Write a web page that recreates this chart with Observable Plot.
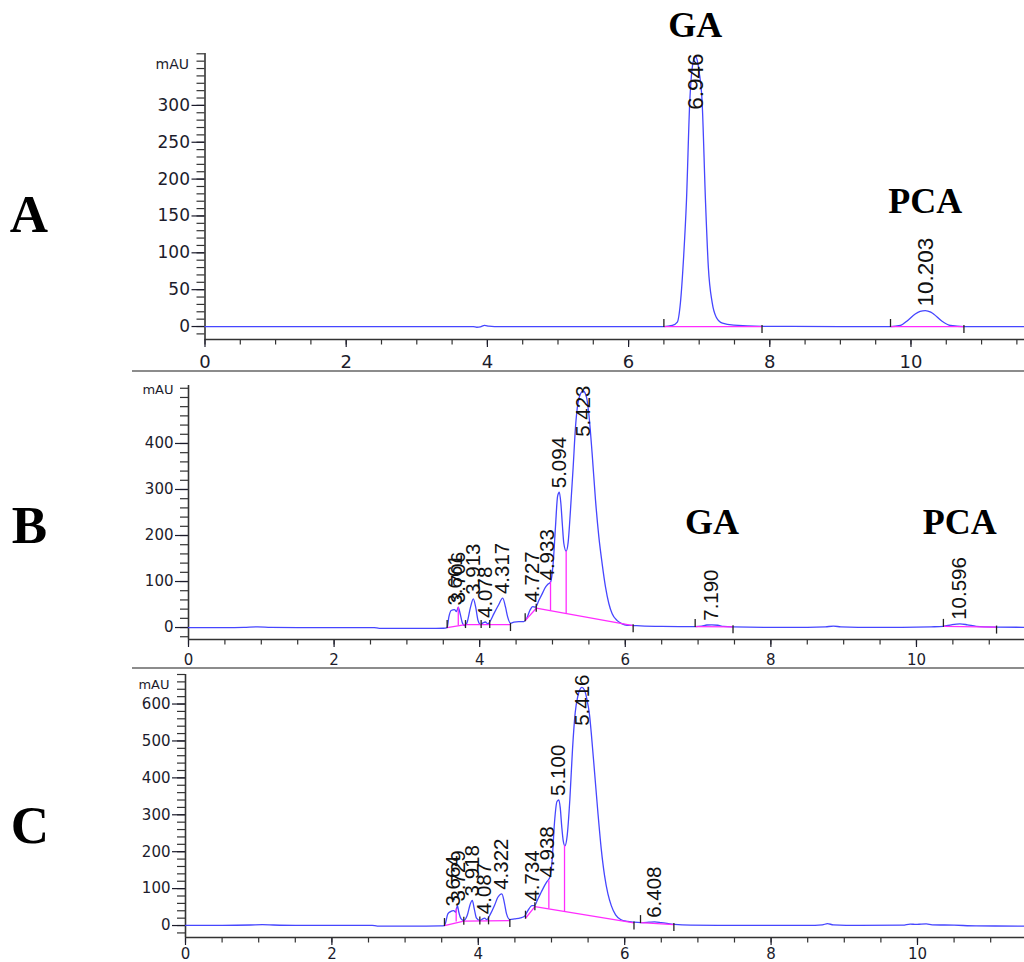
<!DOCTYPE html>
<html><head><meta charset="utf-8">
<script src="https://cdn.jsdelivr.net/npm/d3@7"></script>
<script src="https://cdn.jsdelivr.net/npm/@observablehq/plot@0.6"></script>
<style>
html,body{margin:0;padding:0;background:#fff;}
#root{position:relative;width:1024px;height:962px;overflow:hidden;background:#fff;}
#root > svg{position:absolute;left:0;}
</style></head><body><div id="root"></div>
<script>
// ---------------- DATA ----------------
const panelLetters = ["A", "B", "C"];
const compoundNames = ["GA", "PCA"];

// Panel A : standard mixture
const timeA = [0, 1, 2, 3, 3.80, 3.85, 3.90, 3.96, 4.02, 4.10, 5, 6, 6.50, 6.62, 6.69, 6.735, 6.78, 6.82, 6.867, 6.90, 6.925, 6.946, 6.97, 7.00, 7.041, 7.089, 7.13, 7.183, 7.24, 7.33, 7.49, 7.89, 9.0, 9.71, 9.85, 9.94, 10.06, 10.13, 10.203, 10.28, 10.32, 10.44, 10.56, 10.75, 11.61];
const mAU_A = [0, 0, 0, 0, 0, -1, -0.5, 1.5, 0.5, 0, 0, 0, 0, 1.5, 6, 33, 95, 171, 306, 350, 363, 366, 362, 345, 306, 171, 80, 33, 13, 4.5, 1.8, 0.3, 0, 0, 1.4, 7.2, 17, 20.5, 21.7, 19.5, 17, 7.2, 1.4, 0, 0];

// Panel B
const timeB = [0, 0.5, 0.76, 0.95, 1.13, 1.5, 2.0, 2.55, 2.62, 3.0, 3.3, 3.50, 3.553, 3.576, 3.608, 3.654, 3.681, 3.706, 3.727, 3.759, 3.791, 3.828, 3.874, 3.913, 3.945, 3.978, 4.011, 4.045, 4.078, 4.11, 4.148, 4.194, 4.255, 4.317, 4.355, 4.385, 4.423, 4.469, 4.538, 4.606, 4.643, 4.689, 4.727, 4.766, 4.812, 4.858, 4.904, 4.933, 4.973, 5.009, 5.041, 5.07, 5.094, 5.115, 5.135, 5.156, 5.188, 5.215, 5.247, 5.284, 5.316, 5.348, 5.385, 5.423, 5.467, 5.499, 5.545, 5.591, 5.637, 5.682, 5.728, 5.774, 5.82, 5.889, 5.957, 6.026, 6.117, 6.209, 6.5, 6.96, 7.05, 7.12, 7.19, 7.27, 7.35, 7.48, 8.0, 8.5, 8.75, 8.86, 8.96, 9.2, 9.8, 10.2, 10.37, 10.48, 10.596, 10.7, 10.82, 11.1, 11.484];
const mAU_B = [0, 0, 0.5, 1.5, 0.5, 0, 0, 0, -2, -2, -2, -1.5, 0, 22.5, 36.9, 39, 34.8, 44.2, 33.3, 11.6, 4.3, 11.6, 44.2, 62.3, 44.2, 15, 6.5, 10, 12, 8, 15, 29.7, 47.8, 64, 44.2, 22.5, 9.4, 11.6, 13, 13, 18.8, 36.9, 45.6, 44.2, 58.7, 73.2, 87.7, 93.5, 98.6, 139, 218.8, 285, 294, 270, 225, 182.6, 166, 185, 255, 348.5, 435.5, 486, 508, 514, 500.7, 464.5, 377.5, 276.8, 197, 139, 88.4, 52.2, 29.7, 15, 8, 5, 4.3, 3.6, 2.5, 2, 3, 5.5, 6, 5, 2.5, 1.5, 0.5, 0.5, 1.5, 3, 1.5, 0.5, 0.5, 1.5, 2.5, 6, 8, 6, 2.5, 1, 0.5];

// Panel C
const timeC = [0, 0.5, 0.89, 1.05, 1.2, 1.5, 2.0, 2.55, 2.62, 3.0, 3.484, 3.538, 3.552, 3.584, 3.62, 3.664, 3.69, 3.715, 3.734, 3.766, 3.802, 3.848, 3.893, 3.918, 3.945, 3.976, 4.021, 4.06, 4.087, 4.115, 4.167, 4.221, 4.267, 4.322, 4.355, 4.386, 4.431, 4.495, 4.577, 4.632, 4.677, 4.734, 4.768, 4.814, 4.859, 4.905, 4.938, 4.978, 5.01, 5.041, 5.075, 5.100, 5.12, 5.14, 5.16, 5.183, 5.214, 5.251, 5.287, 5.324, 5.36, 5.39, 5.416, 5.45, 5.485, 5.52, 5.543, 5.589, 5.634, 5.68, 5.725, 5.771, 5.817, 5.876, 5.945, 6.036, 6.127, 6.22, 6.33, 6.408, 6.5, 6.68, 6.9, 7.5, 8.5, 8.7, 8.77, 8.85, 9.2, 9.8, 9.9, 9.98, 10.05, 10.12, 10.2, 10.5, 10.8, 11.462];
const mAU_C = [0.5, 0.5, 1.5, 2.5, 1.5, 0.5, 0.5, 0.5, -1.5, -1.5, -1, 0, 7, 31.5, 37.8, 40.5, 36, 54, 36, 18, 13.5, 27, 60, 68, 45, 19.8, 13.5, 18, 20, 16, 31.5, 54, 76.6, 86, 63, 31.5, 16.2, 18, 20.7, 25.2, 40.5, 54, 54, 72, 90, 108, 119, 130.6, 180, 279, 336, 340, 318, 268, 230, 216, 243, 342, 477, 576.6, 621.6, 640, 645, 638, 612, 570, 522.5, 414, 306, 207, 135, 85.6, 54, 28.8, 16.2, 11, 9, 8, 9, 10, 8, 3, 1, 0.5, 0.5, 2, 5, 2, 0.5, 1, 4, 3, 4, 4.5, 2, 1, -1, -1.5];

// retention-time labels
const rtLabelsA = ["6.946", "10.203"];
const rtLabelsB = ["3.661", "3.706", "3.913", "4.078", "4.317", "4.727", "4.933", "5.094", "5.423", "7.190", "10.596"];
const rtLabelsC = ["3.664", "3.729", "3.918", "4.087", "4.322", "4.734", "4.938", "5.100", "5.416", "6.408"];

// compound retention times (GA, PCA)
const compoundTimesA = [6.946, 10.203];
const compoundTimesB = [7.190, 10.596];

// integration baselines [t0, v0, t1, v1]
const baselineA = [[6.50, 0, 7.89, 0], [9.71, 0, 10.75, 0]];
const baselineB = [[3.553, 0, 3.805, 6.5], [3.805, 6.5, 4.423, 6.5], [4.625, 15, 4.777, 42], [4.777, 42, 6.108, 4], [6.96, 2, 7.48, 1.5], [10.37, 2.5, 11.1, 1]];
const baselineC = [[3.538, 0, 3.802, 11.7], [3.802, 11.7, 4.431, 13.5], [4.645, 19.8, 4.773, 51], [4.773, 51, 6.127, 7.2], [6.216, 8, 6.672, 2.5]];

// peak split drop lines [t, baseline value, signal value]
const dropsA = [];
const dropsB = [[3.706, 3.9, 44.2], [4.973, 36.4, 98.6], [5.188, 30.4, 166]];
const dropsC = [[3.698, 9.8, 45], [4.964, 45, 121.6], [5.178, 38, 216]];

// integration event marks
const evStartA = [6.50, 9.71], evMidA = [], evEndA = [7.89, 10.75];
const evStartB = [3.553, 4.625, 6.96, 10.37], evMidB = [3.805, 4.02, 4.138, 4.777], evEndB = [4.423, 6.108, 7.48, 11.1];
const evStartC = [3.538, 4.645, 6.216], evMidC = [3.802, 4.021, 4.14, 4.773], evEndC = [4.431, 6.127, 6.672];

// axis ticks
const xMajorTicks = [0, 2, 4, 6, 8, 10];
const xMinorTicks = [0, 0.5, 1, 1.5, 2, 2.5, 3, 3.5, 4, 4.5, 5, 5.5, 6, 6.5, 7, 7.5, 8, 8.5, 9, 9.5, 10, 10.5, 11, 11.5];
const yMajorA = [0, 50, 100, 150, 200, 250, 300];
const yMajorB = [0, 100, 200, 300, 400];
const yMajorC = [0, 100, 200, 300, 400, 500, 600];

// ---------------- DRAWING ----------------
const BLUE = "#4646ff", MAG = "#ff2cff", AX = "#333", TXT = "#1c1c2c";
const GAP = 4;
const ctx = document.createElement("canvas").getContext("2d");

function lerp(ts, vs, t) {
  for (let i = 0; i < ts.length - 1; i++) {
    if (t >= ts[i] && t <= ts[i + 1]) {
      const f = (t - ts[i]) / (ts[i + 1] - ts[i]);
      return vs[i] + f * (vs[i + 1] - vs[i]);
    }
  }
  return 0;
}
function baseAt(segs, t) {
  for (const s of segs) if (t >= s[0] - 1e-9 && t <= s[2] + 1e-9) return s[1] + (t - s[0]) / (s[2] - s[0]) * (s[3] - s[1]);
  return 0;
}

function drawPanel(cfg) {
  const y0px = cfg.height - cfg.mb;
  const k = (y0px - cfg.mt) / (cfg.yDomain[1] - cfg.yDomain[0]);
  const ypx = v => y0px - (v - cfg.yDomain[0]) * k;
  const data = cfg.t.map((t, i) => ({t, v: cfg.v[i]}));
  ctx.font = `${cfg.labelSize}px "Liberation Sans"`;
  const labels = cfg.labels.map(s => {
    const rt = +s;
    let apex = lerp(cfg.t, cfg.v, rt);
    cfg.t.forEach((t, i) => { if (Math.abs(t - rt) <= 0.02) apex = Math.max(apex, cfg.v[i]); });
    const len = ctx.measureText(s).width;
    const clamp = ypx(apex) - GAP - len < cfg.mt - 2;
    return {s, rt, apex, clamp};
  });
  const u = 1 / k;
  const ev = [];
  cfg.evStart.forEach(t => { const b = baseAt(cfg.base, t); ev.push({t, a: b - 1 * u, b: b + 7 * u}); });
  cfg.evMid.forEach(t => { const b = baseAt(cfg.base, t); ev.push({t, a: b - 4 * u, b: b + 4 * u}); });
  cfg.evEnd.forEach(t => { const b = baseAt(cfg.base, t); ev.push({t, a: b + 1 * u, b: b - 7 * u}); });
  const yMinor = d3.range(cfg.minorFrom, cfg.yDomain[1] + 0.001, cfg.minorStep);

  const marks = [
    Plot.axisY({ticks: yMinor, tickSize: 8, tickFormat: () => "", anchor: "left", label: null, color: AX, strokeWidth: 1.2}),
    Plot.axisY({ticks: cfg.yMajor, tickSize: 13, tickPadding: 2, anchor: "left", label: null, fontSize: cfg.axisFont, color: TXT, strokeWidth: 1.2}),
    Plot.axisX({ticks: xMinorTicks, tickSize: 5.5, tickFormat: () => "", anchor: "bottom", label: null, color: AX, strokeWidth: 1.2}),
    Plot.axisX({ticks: xMajorTicks, tickSize: 8, tickPadding: cfg.xPad, anchor: "bottom", label: null, fontSize: cfg.xFont, color: TXT, strokeWidth: 1.2}),
    Plot.ruleY([cfg.yDomain[0]], {stroke: AX, strokeWidth: 1.6}),
    Plot.ruleX([0], {stroke: AX, strokeWidth: 1.6}),
    Plot.line(data, {x: "t", y: "v", stroke: BLUE, strokeWidth: 1.3, curve: "monotone-x"}),
    Plot.link(cfg.base, {x1: d => d[0], y1: d => d[1], x2: d => d[2], y2: d => d[3], stroke: MAG, strokeWidth: 1.3}),
    Plot.ruleX(cfg.drops, {x: d => d[0], y1: d => d[1], y2: d => d[2], stroke: MAG, strokeWidth: 1.3}),
    Plot.ruleX(ev, {x: "t", y1: "a", y2: "b", stroke: "#222", strokeWidth: 1.3}),
    Plot.text(labels.filter(d => !d.clamp), {x: "rt", y: "apex", text: "s", rotate: -90, textAnchor: "start", lineAnchor: "middle", dy: -GAP, fontSize: cfg.labelSize, fontFamily: "Liberation Sans", fill: "#111"}),
    Plot.text(labels.filter(d => d.clamp), {x: "rt", y: () => cfg.yDomain[1], text: "s", rotate: -90, textAnchor: "end", lineAnchor: "middle", dy: 0, fontSize: cfg.labelSize, fontFamily: "Liberation Sans", fill: "#111"}),
    Plot.text(["mAU"], {frameAnchor: "top-left", dx: cfg.mauDx, dy: cfg.mauDy, textAnchor: "end", lineAnchor: "middle", fontSize: cfg.mauSize, fill: TXT})
  ];
  (cfg.compounds || []).forEach(c => {
    const apex = lerp(cfg.t, cfg.v, c.rt);
    marks.push(Plot.text([c], {x: "rt", y: () => apex, text: "name", dy: c.dy, textAnchor: "middle", lineAnchor: "middle", fontSize: 36, fontWeight: "bold", fontFamily: "Liberation Serif", fill: "#000"}));
  });

  const svg = Plot.plot({
    width: 1024, height: cfg.height,
    marginLeft: cfg.ml, marginRight: 0, marginTop: cfg.mt, marginBottom: cfg.mb,
    x: {domain: cfg.xDomain},
    y: {domain: cfg.yDomain},
    style: {fontFamily: "DejaVu Sans", background: "transparent", overflow: "visible", color: TXT},
    marks
  });
  svg.style.top = cfg.top + "px";
  document.getElementById("root").appendChild(svg);
}

drawPanel({
  top: 0, height: 372, mt: 53, mb: 33, ml: 204.5,
  xDomain: [0, 11.608], yDomain: [-17.6, 370.4],
  t: timeA, v: mAU_A, labels: rtLabelsA, base: baselineA, drops: dropsA,
  evStart: evStartA, evMid: evMidA, evEnd: evEndA,
  yMajor: yMajorA, minorFrom: -10, minorStep: 10,
  axisFont: 17, xFont: 18, xPad: 8, labelSize: 22.5,
  mauDx: -16, mauDy: 11, mauSize: 14,
  compounds: [{name: compoundNames[0], rt: compoundTimesA[0], dy: -31}, {name: compoundNames[1], rt: compoundTimesA[1], dy: -109}]
});
drawPanel({
  top: 372, height: 296, mt: 13, mb: 29, ml: 188,
  xDomain: [0, 11.484], yDomain: [-26, 526],
  t: timeB, v: mAU_B, labels: rtLabelsB, base: baselineB, drops: dropsB,
  evStart: evStartB, evMid: evMidB, evEnd: evEndB,
  yMajor: yMajorB, minorFrom: -20, minorStep: 20,
  axisFont: 15, xFont: 15, xPad: 6.5, labelSize: 20.5,
  mauDx: -15, mauDy: 4, mauSize: 13,
  compounds: [{name: compoundNames[0], rt: compoundTimesB[0], dy: -102}, {name: compoundNames[1], rt: compoundTimesB[1], dy: -101}]
});
drawPanel({
  top: 668, height: 294, mt: 6, mb: 25, ml: 185,
  xDomain: [0, 11.462], yDomain: [-32.4, 680],
  t: timeC, v: mAU_C, labels: rtLabelsC, base: baselineC, drops: dropsC,
  evStart: evStartC, evMid: evMidC, evEnd: evEndC,
  yMajor: yMajorC, minorFrom: -20, minorStep: 20,
  axisFont: 15, xFont: 15, xPad: 3, labelSize: 20.5,
  mauDx: -16, mauDy: 10, mauSize: 13
});

// overlay: panel letters and separators
const ov = d3.select("#root").append("svg").attr("width", 1024).attr("height", 962).style("top", "0px").style("pointer-events", "none");
[371, 668].forEach(y => ov.append("line").attr("x1", 132).attr("x2", 1024).attr("y1", y).attr("y2", y).attr("stroke", "#666").attr("stroke-width", 1.6));
const letterPos = [[29, 232], [29.5, 543], [30, 843]];
panelLetters.forEach((L, i) => ov.append("text").attr("x", letterPos[i][0]).attr("y", letterPos[i][1])
  .attr("text-anchor", "middle").attr("font-family", "Liberation Serif, Times New Roman, serif")
  .attr("font-weight", "bold").attr("font-size", 53).attr("fill", "#000").text(L));
</script></body></html>
